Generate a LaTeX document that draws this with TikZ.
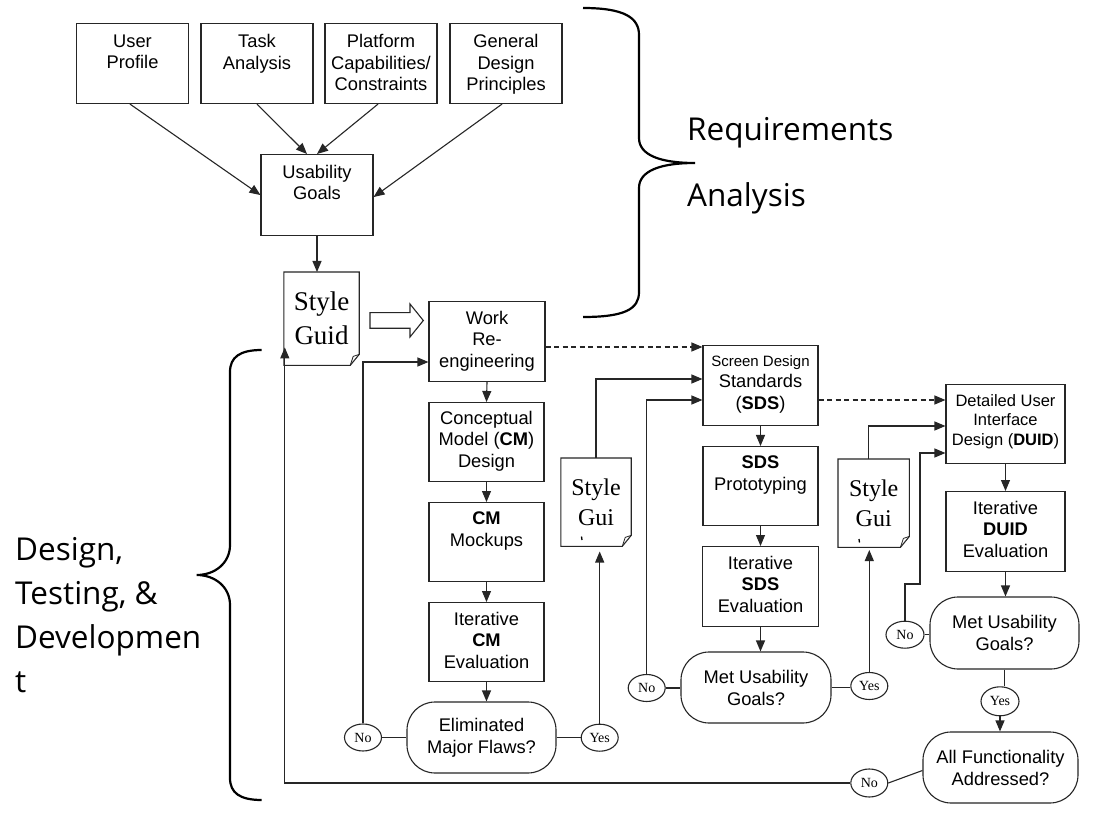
\documentclass[tikz,border=0pt]{standalone}
\usepackage{fontspec}
\setmainfont{Liberation Sans}
\newfontfamily\tnr{Liberation Serif}
\newfontfamily\myr{Open Sans}
\usetikzlibrary{arrows.meta,shapes.geometric,calc}
\tikzset{
 ln/.style={draw=black!85, line width=1.1pt},
 box/.style={ln, rectangle, inner sep=0pt, anchor=north},
 bt/.style={font=\fontsize{18.3}{21.5}\selectfont, align=center, inner sep=0pt, anchor=north},
 arr/.style={ln, -{Triangle[length=11pt,width=9pt]}},
 dsh/.style={arr, dash pattern=on 5pt off 3.5pt},
 dec/.style={ln, rectangle, rounded corners=28pt, inner sep=0pt, font=\fontsize{18.3}{22}\selectfont, align=center},
 yn/.style={ln, ellipse, inner sep=0pt, minimum width=37pt, minimum height=27pt, font=\tnr\fontsize{14}{14}\selectfont},
 doc/.style={inner sep=0pt, anchor=north, align=center},
 brace/.style={draw=black, line width=2.2pt},
 big/.style={myrfont, align=left, inner sep=0pt, anchor=north west},
 myrfont/.style={font=\myr\fontsize{31.5}{44}\selectfont},
}
\newcommand\docout[1]{%
 \draw[ln] (#1.south west) -- (#1.north west) -- (#1.north east) -- ([yshift=11pt]#1.south east) -- ([xshift=-9pt]#1.south east) -- cycle;
 \draw[ln, line width=0.8pt] ([yshift=11pt]#1.south east) -- ([xshift=-6pt,yshift=9pt]#1.south east) -- ([xshift=-9pt]#1.south east);
}
\begin{document}
\begin{tikzpicture}[x=1pt,y=-1pt]
\path[fill=white, use as bounding box] (0,0) rectangle (1096,826);

% top boxes
\node[box, minimum width=112pt, minimum height=80pt] (up) at (132.5,23) {};
\node[bt] (upt) at ($(up.north)+(0,11.5)$) {User\\Profile};
\node[box, minimum width=112pt, minimum height=80pt] (ta) at (257,23) {};
\node[bt] (tat) at ($(ta.north)+(0,11.5)$) {Task\\Analysis};
\node[box, minimum width=112pt, minimum height=80pt] (pc) at (381,23) {};
\node[bt] (pct) at ($(pc.north)+(0,11.5)$) {Platform\\Capabilities/\\Constraints};
\node[box, minimum width=112pt, minimum height=80pt] (gd) at (506,23) {};
\node[bt] (gdt) at ($(gd.north)+(0,11.5)$) {General\\Design\\Principles};
\node[box, minimum width=112pt, minimum height=81pt] (ug) at (317,154) {};
\node[bt] (ugt) at ($(ug.north)+(0,11)$) {Usability\\Goals};

\draw[arr] ([xshift=-2.5pt]up.south) -- (ug.west);
\draw[arr] (ta.south) -- ([xshift=-10pt]ug.north);
\draw[arr] ([xshift=-3pt]pc.south) -- (ug.north);
\draw[arr] ([xshift=-4pt]gd.south) -- ([yshift=-2pt]ug.east);

% style guide
\node[doc, minimum width=75pt, minimum height=93pt, font=\tnr\fontsize{27}{34}\selectfont] (sg) at (321.5,272) {Style\\Guid};
\docout{sg}
\draw[arr] (ug.south) -- (ug.south |- sg.north);
\draw[ln] (370,312.7) -- (410,312.7) -- (410,304) -- (423.3,320.5) -- (410,337) -- (410,328.3) -- (370,328.3) -- cycle;

% CM column
\node[box, minimum width=116pt, minimum height=80pt] (wr) at (487,301) {};
\node[bt] (wrt) at ($(wr.north)+(0,10)$) {Work\\Re-\\engineering};
\node[box, minimum width=115pt, minimum height=79pt] (cm) at (486.5,402) {};
\node[bt] (cmt) at ($(cm.north)+(0,9)$) {Conceptual\\Model (\textbf{CM})\\Design};
\node[box, minimum width=115pt, minimum height=79pt] (mk) at (486.5,502) {};
\node[bt] (mkt) at ($(mk.north)+(0,10)$) {\textbf{CM}\\Mockups};
\node[box, minimum width=115pt, minimum height=79pt] (ev) at (486.5,602) {};
\node[bt] (evt) at ($(ev.north)+(0,10)$) {Iterative\\\textbf{CM}\\Evaluation};
\node[dec, minimum width=149pt, minimum height=71pt] (emf) at (481.5,737.5) {Eliminated\\Major Flaws?};
\node[yn] (no0) at (363,737.5) {No};
\node[yn] (yes0) at (599.7,737.7) {Yes};

\draw[arr] (wr.south) -- (cm.north);
\draw[arr] (cm.south) -- (mk.north);
\draw[arr] (mk.south) -- (ev.north);
\draw[arr] (ev.south) -- (ev.south |- emf.north);
\draw[ln] (no0.east) -- (no0.east -| emf.west);
\draw[ln] (emf.east) -- (emf.east -| yes0.west);
\draw[arr] (no0.north) |- (wr.west |- 0,362);

\node[doc, minimum width=70pt, minimum height=88pt, font=\tnr\fontsize{24}{30}\selectfont] (sgA) at (596,458) {Style\\Gui};
\docout{sgA}
\draw[line width=1.3pt] (581.5,536.5) -- (582,540);
\draw[arr] (yes0.north) -- (yes0.north |- 0,551.5);

% SDS column
\node[box, minimum width=115pt, minimum height=80pt] (sds) at (760.5,345) {};
\node[bt] (sdst) at ($(sds.north)+(0,10)$) {{\fontsize{15}{17}\selectfont Screen Design}\\Standards\\(\textbf{SDS})};
\node[box, minimum width=115pt, minimum height=79pt] (pr) at (760.5,446) {};
\node[bt] (prt) at ($(pr.north)+(0,10)$) {\textbf{SDS}\\Prototyping};
\node[box, minimum width=116pt, minimum height=80pt] (isd) at (760.5,546) {};
\node[bt] (isdt) at ($(isd.north)+(0,10)$) {Iterative\\\textbf{SDS}\\Evaluation};
\node[dec, minimum width=150pt, minimum height=71pt] (mug1) at (756,687.5) {Met Usability\\Goals?};
\node[yn] (no1) at (646.7,688) {No};
\node[yn] (yes1) at (869.3,686) {Yes};

\draw[dsh] (wr.east |- 0,347) -- (sds.west |- 0,347);
\draw[arr] (sgA.north) |- (sds.west |- 0,379);
\draw[arr] (no1.north) |- (sds.west |- 0,400);
\draw[arr] (sds.south) -- (pr.north);
\draw[arr] (pr.south) -- (isd.north);
\draw[arr] (isd.south) -- (isd.south |- mug1.north);
\draw[ln] (no1.east) -- (no1.east -| mug1.west);
\draw[ln] (mug1.east) -- (mug1.east -| yes1.west);

\node[doc, minimum width=71pt, minimum height=88pt, font=\tnr\fontsize{24}{30}\selectfont] (sgB) at (873.7,459) {Style\\Gui};
\docout{sgB}
\draw[line width=1.3pt] (859,539) -- (859.5,542.5);
\draw[arr] (yes1.north) -- (yes1.north |- 0,550);

% DUID column
\node[box, minimum width=119pt, minimum height=79pt] (duid) at (1005.5,384) {};
\node[bt, font=\fontsize{16.5}{19.7}\selectfont] (duidt) at ($(duid.north)+(0,10)$) {Detailed User\\Interface\\Design (\textbf{DUID})};
\node[box, minimum width=119pt, minimum height=80pt] (idu) at (1005.5,491) {};
\node[bt] (idut) at ($(idu.north)+(0,10)$) {Iterative\\\textbf{DUID}\\Evaluation};
\node[dec, minimum width=149pt, minimum height=72pt] (mug2) at (1004.5,633) {Met Usability\\Goals?};
\node[yn, minimum width=38pt] (no2) at (905,634.7) {No};
\node[yn, minimum width=38pt, minimum height=29pt] (yes2) at (1000,701.3) {Yes};
\node[dec, minimum width=155pt, minimum height=71pt] (allf) at (1000.5,767.5) {All Functionality\\Addressed?};
\node[yn, minimum height=28pt] (no3) at (869.3,783) {No};

\draw[dsh] (sds.east |- 0,400) -- (duid.west |- 0,400);
\draw[arr] ([xshift=-5.5pt]sgB.north) |- (duid.west |- 0,426);
\draw[arr] (no2.north) |- (920,584) |- (duid.west |- 0,453);
\draw[arr] (duid.south) -- (idu.north);
\draw[arr] (idu.south) -- (idu.south |- mug2.north);
\draw[ln] (no2.east) -- (no2.east -| mug2.west);
\draw[ln] (mug2.south) -- (mug2.south |- yes2.north);
\draw[arr] (yes2.south) -- (yes2.south |- allf.north);
\draw[ln] (no3.east) -- ([yshift=-3pt]allf.west);
\draw[arr] (no3.west) -| ([xshift=1pt,yshift=18pt]sg.south west);

% braces
\draw[brace] (583,8) .. controls (625,8) and (639,18) .. (639,35) -- (639,138) .. controls (639,155) and (660,163) .. (695,163) .. controls (660,163) and (639,171) .. (639,188) -- (639,292) .. controls (639,309) and (625,317) .. (583,317);
\draw[brace] (261.7,350) .. controls (240,350) and (230,357) .. (230,372) -- (230,545) .. controls (230,563) and (215,575) .. (196.7,575) .. controls (215,575) and (230,587) .. (230,605) -- (230,778) .. controls (230,793) and (240,800) .. (261.7,800);
\node[big, font=\myr\fontsize{31.5}{66}\selectfont] (ra) at (687,117) {Requirements\\Analysis};
\node[big] (dtd) at (15,537) {Design,\\Testing, \&\\Developmen\\t};
\end{tikzpicture}
\end{document}
